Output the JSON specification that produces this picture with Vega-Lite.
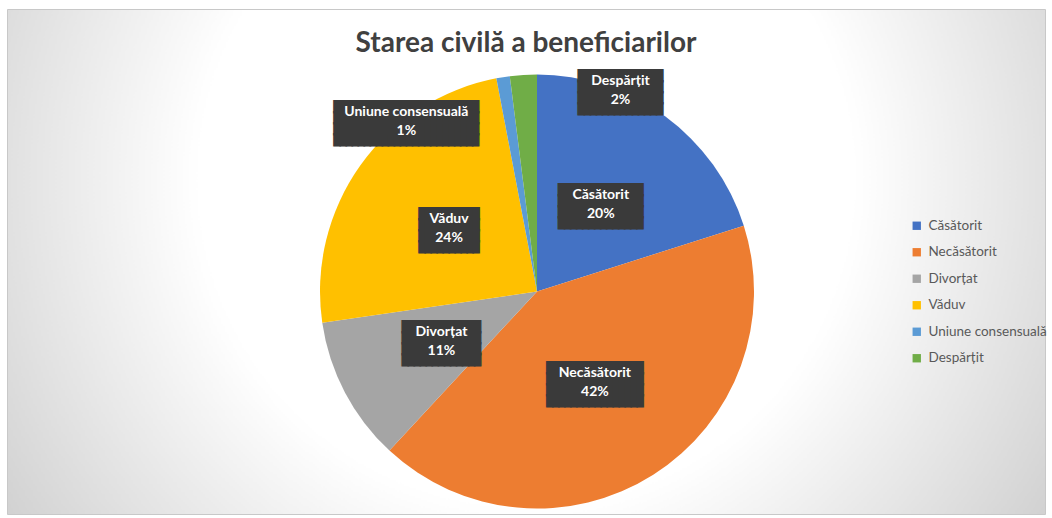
{
  "$schema": "https://vega.github.io/schema/vega-lite/v6.json",
  "width": 1038,
  "height": 505,
  "autosize": {"type": "none"},
  "padding": {"left": 7, "top": 9, "right": 7, "bottom": 4},
  "background": "white",
  "title": {"text": "Starea civilă a beneficiarilor", "font": "Lato", "fontSize": 28, "fontWeight": "bold", "color": "#404040", "anchor": "middle", "offset": -49},
  "view": {
    "stroke": "#c8c8c8",
    "strokeWidth": 1,
    "fill": {"gradient": "radial", "x1": 0.5, "y1": 0.42, "r1": 0, "x2": 0.5, "y2": 0.42, "r2": 0.75, "stops": [{"offset": 0, "color": "#ffffff"}, {"offset": 0.42, "color": "#ffffff"}, {"offset": 1, "color": "#b8b8b8"}]}
  },
  "data": {"values": [
    {"categorie": "Căsătorit", "procent": 20.1, "ordine": 1},
    {"categorie": "Necăsătorit", "procent": 41.8, "ordine": 2},
    {"categorie": "Divorțat", "procent": 10.8, "ordine": 3},
    {"categorie": "Văduv", "procent": 24.3, "ordine": 4},
    {"categorie": "Uniune consensuală", "procent": 1.0, "ordine": 5},
    {"categorie": "Despărțit", "procent": 2.0, "ordine": 6}
  ]},
  "transform": [
    {"calculate": "datum.categorie + '\\n' + format(datum.procent / 100, '.0%')", "as": "eticheta"},
    {"calculate": "pad('', round(length(datum.categorie) * 1.1 + 4), '█')", "as": "rand"},
    {"calculate": "datum.rand + '\\n' + datum.rand + '\\n' + datum.rand + '\\n' + datum.rand", "as": "cutie"}
  ],
  "encoding": {
    "theta": {"field": "procent", "type": "quantitative", "stack": true},
    "order": {"field": "ordine", "type": "quantitative"}
  },
  "layer": [
    {
      "mark": {"type": "arc", "outerRadius": 217, "x": {"expr": "width / 2 + 11"}, "y": {"expr": "height / 2 + 30"}},
      "encoding": {
        "color": {
          "field": "categorie", "type": "nominal",
          "sort": ["Căsătorit", "Necăsătorit", "Divorțat", "Văduv", "Uniune consensuală", "Despărțit"],
          "scale": {"domain": ["Căsătorit", "Necăsătorit", "Divorțat", "Văduv", "Uniune consensuală", "Despărțit"], "range": ["#4472C4", "#ED7D31", "#A5A5A5", "#FFC000", "#5B9BD5", "#70AD47"]},
          "legend": {"title": null, "orient": "none", "legendX": 903, "legendY": 210, "symbolType": "square", "symbolSize": 70, "symbolStrokeWidth": 0, "labelFont": "Lato", "labelFontSize": 13.5, "labelColor": "#595959", "rowPadding": 11.5, "labelOffset": 5, "padding": 0}
        }
      }
    },
    {
      "mark": {"type": "text", "font": "DejaVu Sans Mono", "fontSize": 10, "lineBreak": "\n", "lineHeight": 11, "color": "#3a3a3a", "stroke": "#3a3a3a", "strokeWidth": 1.5, "baseline": "middle", "align": "center", "dy": -14.5, "x": {"expr": "width / 2 + 11"}, "y": {"expr": "height / 2 + 30"}},
      "encoding": {
        "radius": {"condition": {"test": "datum.categorie == 'Divorțat'", "value": 141}, "value": 108},
        "text": {"condition": {"test": "datum.procent < 5", "value": ""}, "field": "cutie"}
      }
    },
    {
      "mark": {"type": "text", "font": "Lato", "fontSize": 14, "fontWeight": "bold", "lineBreak": "\n", "lineHeight": 19, "color": "white", "baseline": "middle", "align": "center", "dy": -9.5, "x": {"expr": "width / 2 + 11"}, "y": {"expr": "height / 2 + 30"}},
      "encoding": {
        "radius": {"condition": {"test": "datum.categorie == 'Divorțat'", "value": 141}, "value": 108},
        "text": {"condition": {"test": "datum.procent < 5", "value": ""}, "field": "eticheta"}
      }
    },
    {
      "mark": {"type": "text", "font": "DejaVu Sans Mono", "fontSize": 10, "lineBreak": "\n", "lineHeight": 11, "color": "#3a3a3a", "stroke": "#3a3a3a", "strokeWidth": 1.5, "baseline": "middle", "align": "center", "radius": 215, "dx": -97, "dy": 27.5, "x": {"expr": "width / 2 + 11"}, "y": {"expr": "height / 2 + 30"}},
      "encoding": {"text": {"condition": {"test": "datum.categorie != 'Uniune consensuală'", "value": ""}, "field": "cutie"}}
    },
    {
      "mark": {"type": "text", "font": "Lato", "fontSize": 14, "fontWeight": "bold", "lineBreak": "\n", "lineHeight": 19, "color": "white", "baseline": "middle", "align": "center", "radius": 215, "dx": -97, "dy": 32.5, "x": {"expr": "width / 2 + 11"}, "y": {"expr": "height / 2 + 30"}},
      "encoding": {"text": {"condition": {"test": "datum.categorie != 'Uniune consensuală'", "value": ""}, "field": "eticheta"}}
    },
    {
      "mark": {"type": "text", "font": "DejaVu Sans Mono", "fontSize": 10, "lineBreak": "\n", "lineHeight": 11, "color": "#3a3a3a", "stroke": "#3a3a3a", "strokeWidth": 1.5, "baseline": "middle", "align": "center", "radius": 215, "dx": 97, "dy": -0.5, "x": {"expr": "width / 2 + 11"}, "y": {"expr": "height / 2 + 30"}},
      "encoding": {"text": {"condition": {"test": "datum.categorie != 'Despărțit'", "value": ""}, "field": "cutie"}}
    },
    {
      "mark": {"type": "text", "font": "Lato", "fontSize": 14, "fontWeight": "bold", "lineBreak": "\n", "lineHeight": 19, "color": "white", "baseline": "middle", "align": "center", "radius": 215, "dx": 97, "dy": 4.5, "x": {"expr": "width / 2 + 11"}, "y": {"expr": "height / 2 + 30"}},
      "encoding": {"text": {"condition": {"test": "datum.categorie != 'Despărțit'", "value": ""}, "field": "eticheta"}}
    }
  ]
}
